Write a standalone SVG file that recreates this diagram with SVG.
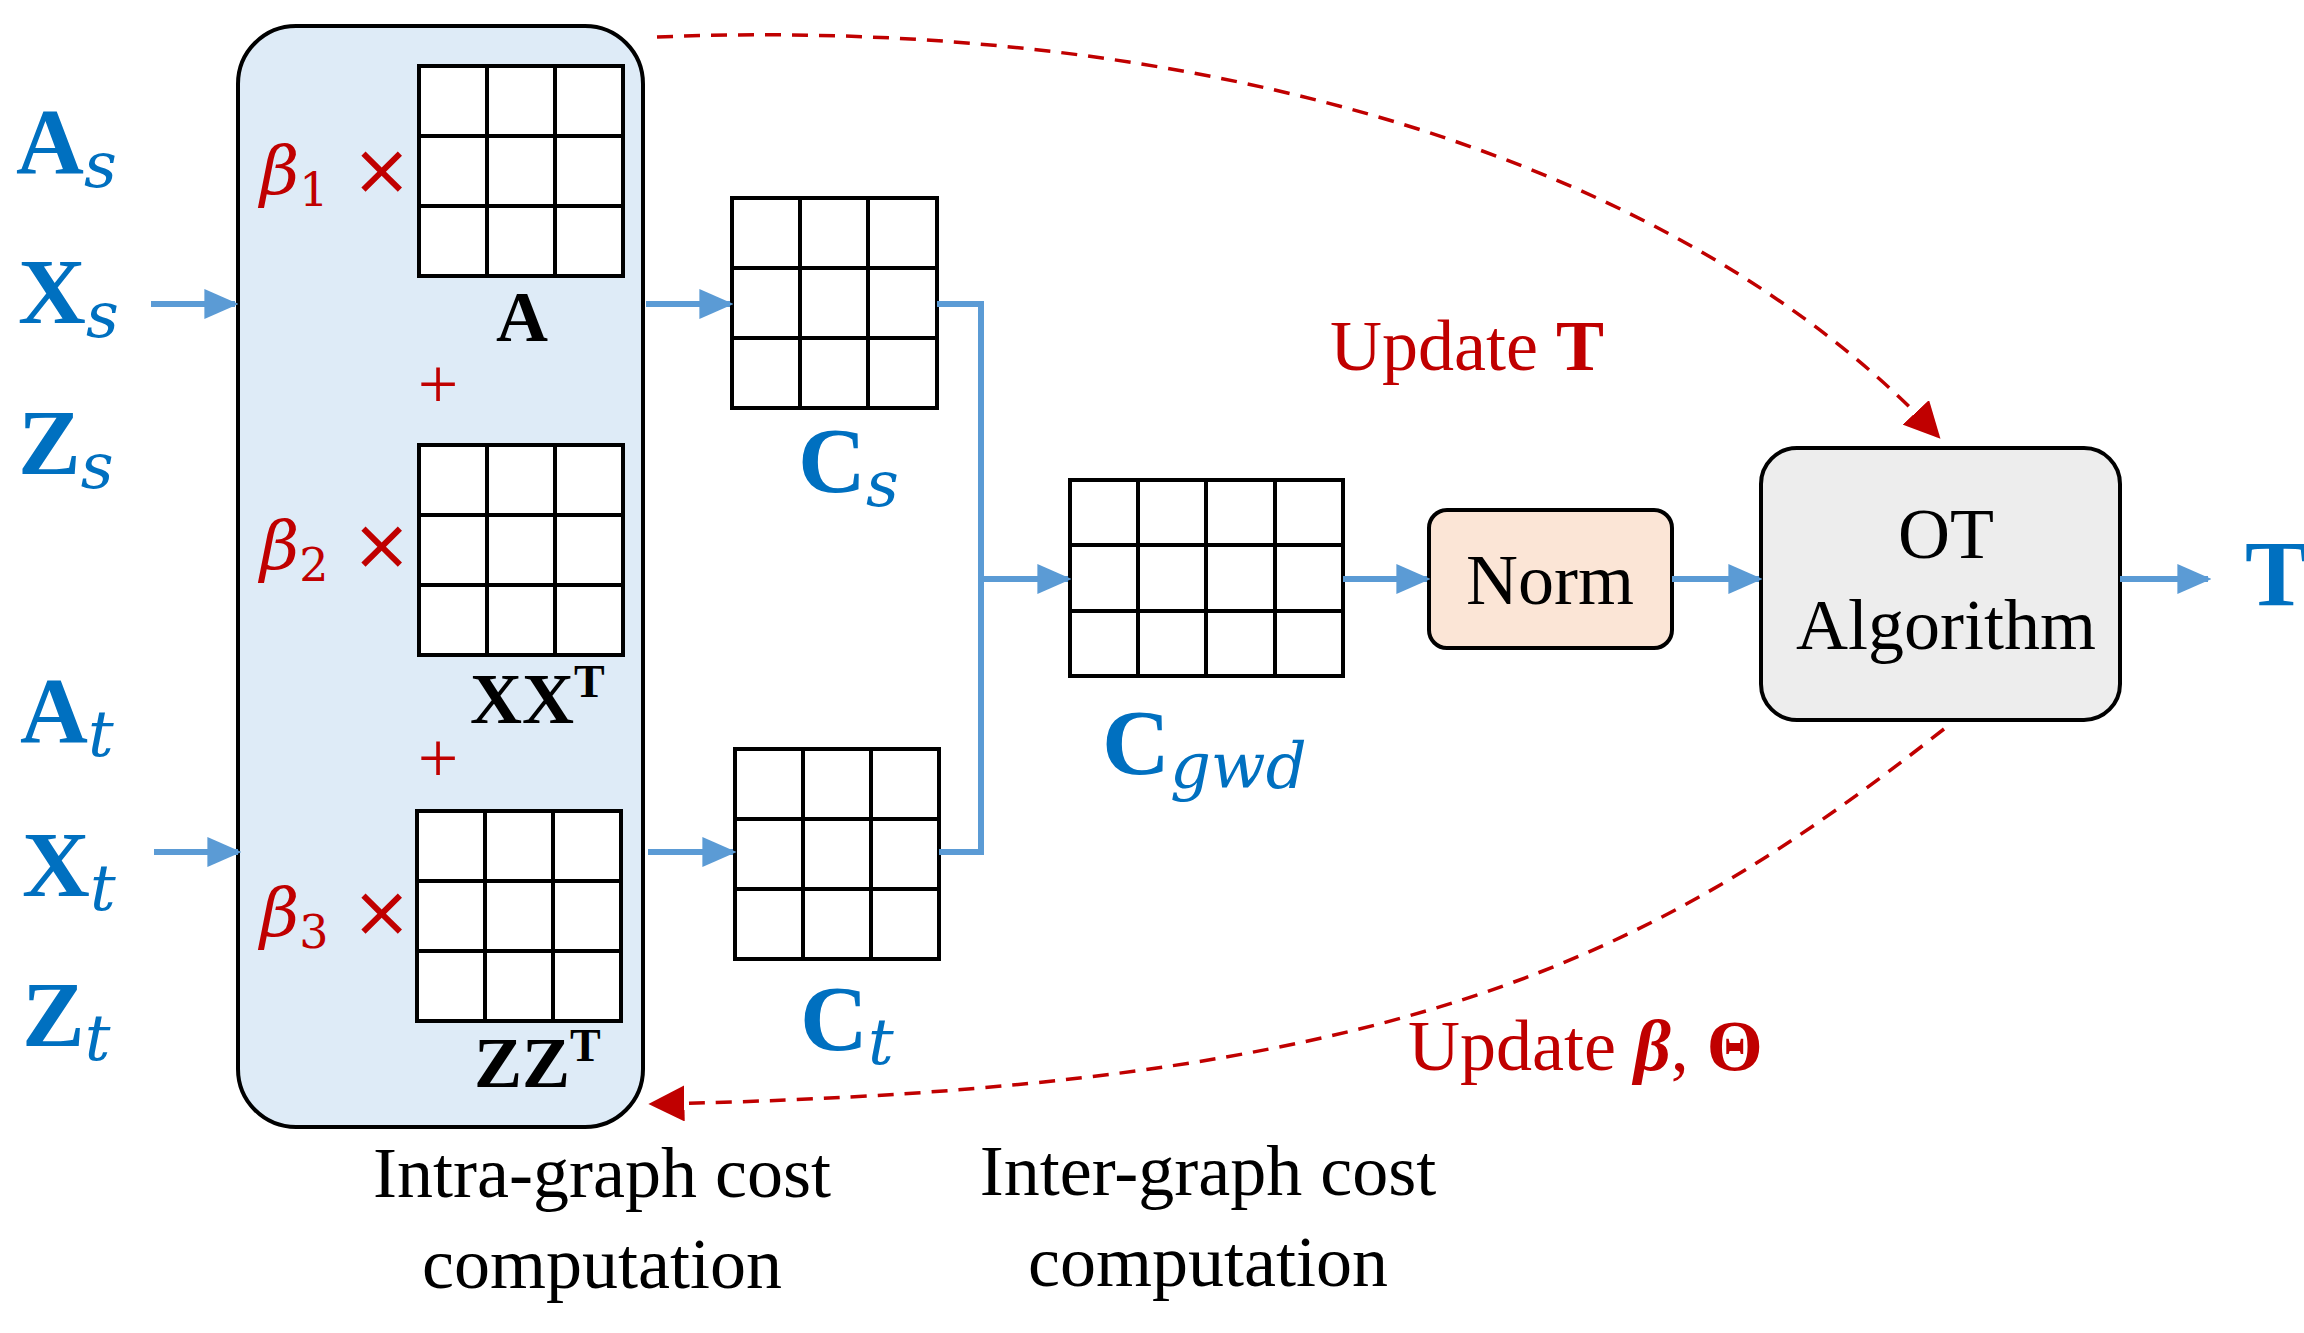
<svg xmlns="http://www.w3.org/2000/svg" width="2304" height="1333" viewBox="0 0 2304 1333">
<defs>
<marker id="ba" viewBox="0 0 10 10" refX="9" refY="5" markerWidth="34" markerHeight="30" orient="auto" markerUnits="userSpaceOnUse" preserveAspectRatio="none"><path d="M0,0 L10,5 L0,10 z" fill="#5b9bd5"/></marker>
<marker id="ra" viewBox="0 0 10 10" refX="9" refY="5" markerWidth="36" markerHeight="36" orient="auto" markerUnits="userSpaceOnUse"><path d="M0,0 L10,5 L0,10 z" fill="#c00000"/></marker>
<style>
.g{fill:#fff;stroke:#000;stroke-width:4}
.gl{stroke:#000;stroke-width:4}
.bl{stroke:#5b9bd5;stroke-width:6;fill:none}
.lab{font-family:"Liberation Serif",serif;font-weight:bold;fill:#0070c0;font-size:94px}
.sub{font-family:"DejaVu Serif",serif;font-style:italic;font-weight:normal;font-size:64px}
.red{font-family:"Liberation Serif",serif;fill:#c00000;font-size:72px}
.blk{font-family:"Liberation Serif",serif;fill:#000;font-size:72px}
.dash{stroke:#c00000;stroke-width:3.5;fill:none;stroke-dasharray:16 11}
</style>
</defs>
<g id="intra"><rect x="238" y="26" width="405" height="1101" rx="58" fill="#deebf7" stroke="#000" stroke-width="4"/></g>
<g id="matA"><rect class="g" x="419" y="66" width="204" height="210"/><path class="gl" d="M487,66V276M555,66V276M419,136H623M419,206H623"/></g>
<g id="matXX"><rect class="g" x="419" y="445" width="204" height="210"/><path class="gl" d="M487,445V655M555,445V655M419,515H623M419,585H623"/></g>
<g id="matZZ"><rect class="g" x="417" y="811" width="204" height="210"/><path class="gl" d="M485,811V1021M553,811V1021M417,881H621M417,951H621"/></g>
<g id="Cs"><rect class="g" x="732" y="198" width="205" height="210"/><path class="gl" d="M800,198V408M868,198V408M732,268H937M732,338H937"/></g>
<g id="Ct"><rect class="g" x="735" y="749" width="204" height="210"/><path class="gl" d="M803,749V959M871,749V959M735,819H939M735,889H939"/></g>
<g id="Cgwd"><rect class="g" x="1070" y="480" width="273" height="196"/><path class="gl" d="M1138,480V676M1206,480V676M1275,480V676M1070,545H1343M1070,611H1343"/></g>
<g id="norm"><rect x="1429" y="510" width="243" height="138" rx="18" fill="#fbe5d6" stroke="#000" stroke-width="4"/><text class="blk" x="1550" y="604" text-anchor="middle" font-size="76">Norm</text></g>
<g id="ot"><rect x="1761" y="448" width="359" height="272" rx="36" fill="#ededed" stroke="#000" stroke-width="4"/><text class="blk" x="1946" y="558" text-anchor="middle" font-size="76">OT</text><text class="blk" x="1946" y="649" text-anchor="middle" font-size="76">Algorithm</text></g>
<g id="connectors">
<path class="bl" d="M151,304H235" marker-end="url(#ba)"/>
<path class="bl" d="M154,852H238" marker-end="url(#ba)"/>
<path class="bl" d="M646,304H730" marker-end="url(#ba)"/>
<path class="bl" d="M648,852H733" marker-end="url(#ba)"/>
<path class="bl" d="M937,304H981V852H939"/>
<path class="bl" d="M981,579H1068" marker-end="url(#ba)"/>
<path class="bl" d="M1343,579H1427" marker-end="url(#ba)"/>
<path class="bl" d="M1672,579H1759" marker-end="url(#ba)"/>
<path class="bl" d="M2120,579H2208" marker-end="url(#ba)"/>
<path class="dash" d="M657,37 C1200,15 1680,160 1938,436" marker-end="url(#ra)"/>
<path class="dash" d="M1944,729 C1650,960 1400,1090 652,1104" marker-end="url(#ra)"/>
</g>
<g id="labels">
<text class="lab" x="16" y="173">A<tspan class="sub" dy="14">s</tspan></text>
<text class="lab" x="18" y="323">X<tspan class="sub" dy="14">s</tspan></text>
<text class="lab" x="18" y="474">Z<tspan class="sub" dy="14">s</tspan></text>
<text class="lab" x="20" y="742">A<tspan class="sub" dy="14">t</tspan></text>
<text class="lab" x="22" y="896">X<tspan class="sub" dy="14">t</tspan></text>
<text class="lab" x="22" y="1046">Z<tspan class="sub" dy="14">t</tspan></text>
<text class="red" x="260" y="194"><tspan font-family="DejaVu Serif" font-style="italic" font-size="68">β</tspan><tspan font-family="DejaVu Serif" font-size="46" dy="12">1</tspan><tspan dy="-12" font-family="DejaVu Sans" font-size="72"> ×</tspan></text>
<text class="red" x="260" y="569"><tspan font-family="DejaVu Serif" font-style="italic" font-size="68">β</tspan><tspan font-family="DejaVu Serif" font-size="46" dy="12">2</tspan><tspan dy="-12" font-family="DejaVu Sans" font-size="72"> ×</tspan></text>
<text class="red" x="260" y="936"><tspan font-family="DejaVu Serif" font-style="italic" font-size="68">β</tspan><tspan font-family="DejaVu Serif" font-size="46" dy="12">3</tspan><tspan dy="-12" font-family="DejaVu Sans" font-size="72"> ×</tspan></text>
<text class="red" x="438" y="408" text-anchor="middle" font-family="DejaVu Sans" font-size="50">+</text>
<text class="red" x="438" y="782" text-anchor="middle" font-family="DejaVu Sans" font-size="50">+</text>
<text class="blk" x="522" y="341" text-anchor="middle" font-weight="bold" font-size="66">A</text>
<text class="blk" x="470" y="723" font-weight="bold" font-size="66">XX<tspan dy="-26" font-size="46">T</tspan></text>
<text class="blk" x="474" y="1087" font-weight="bold" font-size="66">ZZ<tspan dy="-26" font-size="46">T</tspan></text>
<text class="lab" x="798" y="492">C<tspan class="sub" dy="14">s</tspan></text>
<text class="lab" x="800" y="1050">C<tspan class="sub" dy="14">t</tspan></text>
<text class="lab" x="1102" y="774">C<tspan class="sub" dy="14">gwd</tspan></text>
<text class="lab" x="2245" y="605">T</text>
<text class="red" x="1330" y="370">Update <tspan font-weight="bold">T</tspan></text>
<text class="red" x="1408" y="1070">Update <tspan font-weight="bold" font-style="italic">β</tspan>, <tspan font-weight="bold">Θ</tspan></text>
<text class="blk" x="602" y="1197" text-anchor="middle">Intra-graph cost</text>
<text class="blk" x="602" y="1288" text-anchor="middle">computation</text>
<text class="blk" x="1208" y="1195" text-anchor="middle">Inter-graph cost</text>
<text class="blk" x="1208" y="1286" text-anchor="middle">computation</text>
</g>
</svg>
